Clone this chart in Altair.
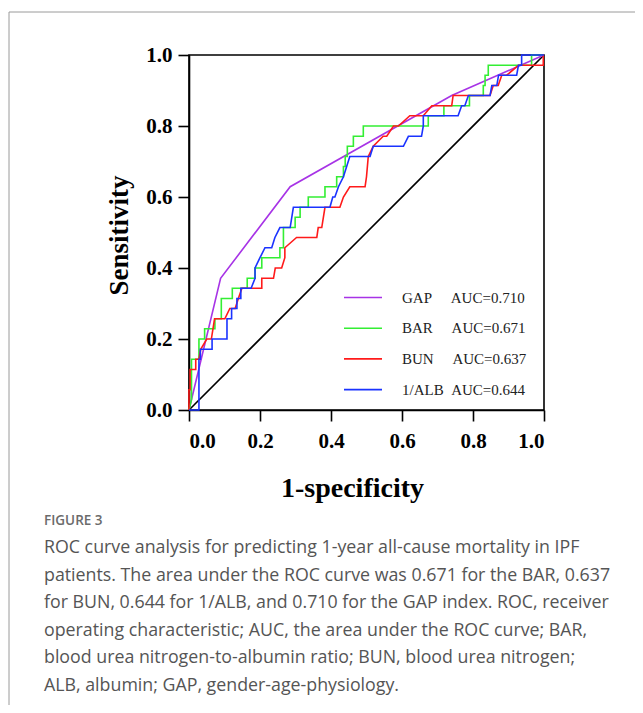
import altair as alt
import pandas as pd

# ---------------- data ----------------
series_names = ["GAP", "BAR", "BUN", "1/ALB"]
auc_values = ["0.710", "0.671", "0.637", "0.644"]
series_colors = ["#A733E6", "#33EE33", "#FF1A1A", "#1A33FF"]

gap_fpr = [0.0, 0.089, 0.285, 0.74, 1.0]
gap_tpr = [0.0, 0.371, 0.629, 0.886, 1.0]

bar_fpr = [0.0, 0.007, 0.007, 0.028, 0.028, 0.044, 0.044, 0.073, 0.073, 0.091, 0.091, 0.122, 0.122,
           0.164, 0.164, 0.186, 0.186, 0.205, 0.205, 0.256, 0.256, 0.266, 0.266, 0.299, 0.299, 0.313,
           0.313, 0.336, 0.336, 0.383, 0.383, 0.416, 0.416, 0.435, 0.435, 0.44, 0.44, 0.446, 0.446,
           0.463, 0.463, 0.491, 0.491, 0.674, 0.674, 0.718, 0.718, 0.79, 0.79, 0.829, 0.829, 0.834,
           0.834, 0.843, 0.843, 0.965, 0.965, 1.0]
bar_tpr = [0.0, 0.029, 0.143, 0.143, 0.2, 0.2, 0.229, 0.229, 0.257, 0.257, 0.314, 0.314, 0.343,
           0.343, 0.371, 0.371, 0.4, 0.4, 0.429, 0.429, 0.457, 0.457, 0.514, 0.514, 0.543, 0.543,
           0.571, 0.571, 0.6, 0.6, 0.629, 0.629, 0.657, 0.657, 0.686, 0.686, 0.714, 0.714, 0.743,
           0.743, 0.771, 0.771, 0.8, 0.8, 0.829, 0.829, 0.857, 0.857, 0.886, 0.886, 0.914, 0.914,
           0.943, 0.943, 0.971, 0.971, 1.0, 1.0]

bun_fpr = [0.0, 0.0, 0.003, 0.003, 0.019, 0.019, 0.028, 0.033, 0.05, 0.063, 0.072, 0.101, 0.115,
           0.13, 0.139, 0.149, 0.205, 0.205, 0.238, 0.243, 0.261, 0.27, 0.27, 0.303, 0.36, 0.364,
           0.374, 0.383, 0.425, 0.435, 0.453, 0.496, 0.5, 0.505, 0.519, 0.547, 0.557, 0.576, 0.59,
           0.622, 0.66, 0.684, 0.74, 0.744, 0.848, 0.857, 0.871, 0.881, 0.895, 0.928, 0.998, 0.998, 1.0]
bun_tpr = [0.0, 0.057, 0.057, 0.114, 0.114, 0.143, 0.143, 0.171, 0.2, 0.2, 0.257, 0.257, 0.286,
           0.286, 0.314, 0.343, 0.343, 0.371, 0.371, 0.4, 0.4, 0.429, 0.457, 0.486, 0.486, 0.514,
           0.514, 0.571, 0.571, 0.6, 0.629, 0.629, 0.657, 0.714, 0.743, 0.771, 0.771, 0.8, 0.8,
           0.829, 0.829, 0.857, 0.857, 0.886, 0.886, 0.914, 0.914, 0.943, 0.943, 0.971, 0.971, 1.0, 1.0]

alb_fpr = [0.0, 0.028, 0.028, 0.032, 0.032, 0.065, 0.065, 0.107, 0.107, 0.12, 0.12, 0.135, 0.135,
           0.146, 0.146, 0.175, 0.186, 0.186, 0.2, 0.214, 0.233, 0.242, 0.256, 0.285, 0.294, 0.397,
           0.405, 0.411, 0.421, 0.435, 0.453, 0.51, 0.519, 0.604, 0.618, 0.655, 0.66, 0.66, 0.758,
           0.768, 0.777, 0.787, 0.848, 0.853, 0.867, 0.872, 0.923, 0.928, 0.937, 0.937, 1.0]
alb_tpr = [0.0, 0.0, 0.143, 0.143, 0.171, 0.171, 0.2, 0.2, 0.257, 0.257, 0.286, 0.286, 0.314,
           0.314, 0.343, 0.343, 0.371, 0.4, 0.429, 0.457, 0.457, 0.486, 0.514, 0.514, 0.571, 0.571,
           0.6, 0.6, 0.629, 0.657, 0.714, 0.714, 0.743, 0.743, 0.771, 0.771, 0.8, 0.829, 0.829,
           0.857, 0.857, 0.886, 0.886, 0.914, 0.914, 0.943, 0.943, 0.971, 0.971, 1.0, 1.0]

axis_ticks = [0.0, 0.2, 0.4, 0.6, 0.8, 1.0]

figure_label = "FIGURE 3"
caption_lines = [
    "ROC curve analysis for predicting 1-year all-cause mortality in IPF",
    "patients. The area under the ROC curve was 0.671 for the BAR, 0.637",
    "for BUN, 0.644 for 1/ALB, and 0.710 for the GAP index. ROC, receiver",
    "operating characteristic; AUC, the area under the ROC curve; BAR,",
    "blood urea nitrogen-to-albumin ratio; BUN, blood urea nitrogen;",
    "ALB, albumin; GAP, gender-age-physiology.",
]

# ---------------- build tables ----------------
NB = "\u00a0"
pad = {"GAP": 5, "BAR": 5, "BUN": 5, "1/ALB": 2}
legend_labels = [f"{n}{NB * pad[n]}AUC={a}" for n, a in zip(series_names, auc_values)]

curves = {
    "GAP": (gap_fpr, gap_tpr),
    "BAR": (bar_fpr, bar_tpr),
    "BUN": (bun_fpr, bun_tpr),
    "1/ALB": (alb_fpr, alb_tpr),
}
rows = []
for name, lab in zip(series_names, legend_labels):
    xs, ys = curves[name]
    for i, (x, y) in enumerate(zip(xs, ys)):
        rows.append({"series": lab, "fpr": x, "tpr": y, "idx": i})
df = pd.DataFrame(rows)

diag = pd.DataFrame({"fpr": [0.0, 1.0], "tpr": [0.0, 1.0], "idx": [0, 1]})
dummy = pd.DataFrame({"a": [0]})

SERIF = "Liberation Serif"

x_enc = alt.X("fpr:Q", scale=alt.Scale(domain=[0, 1], nice=False),
              axis=alt.Axis(values=axis_ticks, format=".1f", title="1-specificity",
                            titleX=163, titleY=78, titleAlign="center", titleBaseline="middle",
                            titleFont=SERIF, titleFontSize=28, titleFontWeight="bold"))
y_enc = alt.Y("tpr:Q", scale=alt.Scale(domain=[0, 1], nice=False),
              axis=alt.Axis(values=axis_ticks, format=".1f", title="Sensitivity",
                            titleX=-70, titleY=180, titleAngle=270, titleAlign="center",
                            titleBaseline="middle",
                            titleFont=SERIF, titleFontSize=27, titleFontWeight="bold"))

diag_layer = alt.Chart(diag).mark_line(color="black", strokeWidth=1.6).encode(
    x=x_enc, y=y_enc, order="idx:Q")

curve_layer = alt.Chart(df).mark_line(strokeWidth=1.6).encode(
    x=x_enc, y=y_enc, order="idx:Q",
    color=alt.Color("series:N",
                    scale=alt.Scale(domain=legend_labels, range=series_colors),
                    sort=legend_labels,
                    legend=alt.Legend(orient="none", legendX=154, legendY=235, title=None,
                                      symbolType="stroke", symbolSize=1444, symbolStrokeWidth=1.6,
                                      labelFont=SERIF, labelFontSize=15, labelColor="#222",
                                      labelOffset=19, clipHeight=15, rowPadding=14.7, padding=0,
                                      labelLimit=400)),
)

frame_left = alt.Chart(dummy).mark_rule(color="#9a9a9a", strokeWidth=1).encode(
    x=alt.value(-180), x2=alt.value(-180), y=alt.value(-43), y2=alt.value(700))
frame_top = alt.Chart(dummy).mark_rule(color="#9a9a9a", strokeWidth=1).encode(
    x=alt.value(-180), x2=alt.value(500), y=alt.value(-43), y2=alt.value(-43))

fig_text = alt.Chart(pd.DataFrame({"t": [figure_label]})).mark_text(
    align="left", baseline="middle", font="Open Sans", fontSize=13.5, fontWeight=600,
    color="#6b6b6b").encode(text="t:N", x=alt.value(-145), y=alt.value(466))

cap_text = alt.Chart(pd.DataFrame({"t": ["\n".join(caption_lines)]})).mark_text(
    align="left", baseline="middle", font="Open Sans", fontSize=17.8, color="#555555",
    lineBreak="\n", lineHeight=27.6).encode(text="t:N", x=alt.value(-145), y=alt.value(493))

chart = alt.layer(frame_left, frame_top, diag_layer, curve_layer, fig_text, cap_text).properties(
    width=355, height=355,
    autosize=alt.AutoSizeParams(type="none"),
    padding={"left": 181, "top": 47, "right": 91, "bottom": 295},
).configure_view(stroke="black", strokeWidth=1.6).configure_axis(
    domainColor="black", domainWidth=1.6, tickColor="black", tickWidth=1.6, tickSize=11,
    labelFont=SERIF, labelFontSize=21, labelFontWeight="bold", labelColor="black",
    labelPadding=6, grid=False, titleColor="black"
).configure_axisX(labelPadding=9)

chart.save("out.html", embed_options={"renderer": "svg", "actions": False})
